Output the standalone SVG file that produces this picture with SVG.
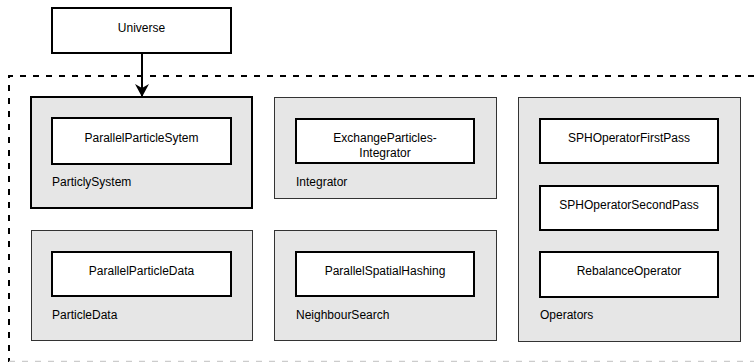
<svg xmlns="http://www.w3.org/2000/svg" width="754" height="362" viewBox="0 0 754 362">
  <defs>
    <marker id="arrow" markerWidth="14" markerHeight="14" refX="13" refY="7" orient="auto" markerUnits="userSpaceOnUse">
      <path d="M0,0 L13,7 L0,14 L4,7 Z" fill="#000"/>
    </marker>
    <style>
      text { font-family: "Liberation Sans", Arial, sans-serif; font-size: 12px; fill: #000; }
      .mid { text-anchor: middle; }
      .pkg { fill: #e6e6e6; stroke: #333; stroke-width: 1; }
      .pkg-sel { fill: #e6e6e6; stroke: #000; stroke-width: 2; }
      .cls { fill: #fff; stroke: #000; stroke-width: 2; }
      .frame { fill: none; stroke: #000; stroke-width: 2; stroke-dasharray: 6 7; }
      .frame-low { fill: none; stroke: #ccc; stroke-width: 1.5; stroke-dasharray: 6 7; }
    </style>
  </defs>

  <!-- boundary of the parallel subsystem -->
  <g id="frame">
    <path class="frame" d="M754,76 H9 V362"/>
    <path class="frame-low" d="M9,361.5 H754"/>
  </g>

  <g id="universe">
    <rect class="cls" x="52" y="8" width="179" height="45"/>
    <text class="mid" x="141.5" y="31.5">Universe</text>
  </g>

  <g id="particly-system">
    <rect class="pkg-sel" x="31" y="97" width="221" height="111"/>
    <rect class="cls" x="52" y="118" width="179" height="46"/>
    <text class="mid" x="141.5" y="142">ParallelParticleSytem</text>
    <text x="52" y="185.5">ParticlySystem</text>
  </g>

  <g id="integrator">
    <rect class="pkg" x="274.5" y="97.5" width="222" height="101"/>
    <rect class="cls" x="296" y="119" width="178" height="44"/>
    <text class="mid" x="385" y="141.5">ExchangeParticles-</text>
    <text class="mid" x="385" y="157">Integrator</text>
    <text x="296" y="185.5">Integrator</text>
  </g>

  <g id="operators">
    <rect class="pkg" x="518.5" y="97.5" width="222" height="244"/>
    <rect class="cls" x="540" y="119" width="178" height="44"/>
    <text class="mid" x="629" y="142">SPHOperatorFirstPass</text>
    <rect class="cls" x="540" y="186" width="178" height="44"/>
    <text class="mid" x="629" y="209">SPHOperatorSecondPass</text>
    <rect class="cls" x="540" y="252" width="178" height="45"/>
    <text class="mid" x="629" y="275">RebalanceOperator</text>
    <text x="540" y="318.5">Operators</text>
  </g>

  <g id="particle-data">
    <rect class="pkg" x="31.5" y="230.5" width="221" height="110"/>
    <rect class="cls" x="52" y="252" width="179" height="44"/>
    <text class="mid" x="141.5" y="274.5">ParallelParticleData</text>
    <text x="52" y="318.5">ParticleData</text>
  </g>

  <g id="neighbour-search">
    <rect class="pkg" x="274.5" y="230.5" width="222" height="110"/>
    <rect class="cls" x="296" y="252" width="178" height="44"/>
    <text class="mid" x="385" y="274.5">ParallelSpatialHashing</text>
    <text x="296" y="318.5">NeighbourSearch</text>
  </g>

  <g id="connectors">
    <line x1="142" y1="53" x2="142" y2="97" stroke="#000" stroke-width="2" marker-end="url(#arrow)"/>
  </g>
</svg>
